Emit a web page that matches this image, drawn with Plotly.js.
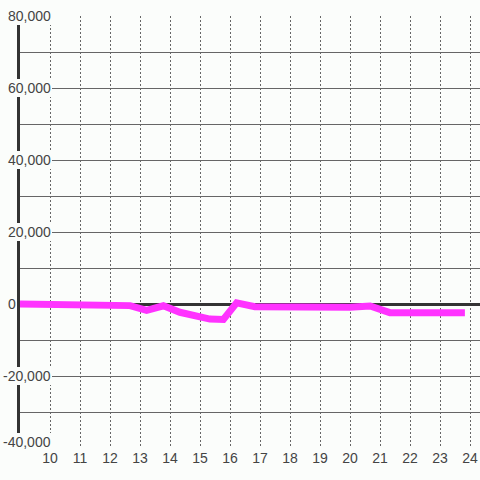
<!DOCTYPE html>
<html>
<head>
<meta charset="utf-8">
<script src="https://cdn.plot.ly/plotly-3.0.1.min.js"></script>
<style>
html,body{margin:0;padding:0;background:#fbfdfb;}
#chart{width:480px;height:480px;}
</style>
</head>
<body>
<div id="chart"></div>
<script>
// Data
const xValues = [9, 10.9, 11.2, 12.67, 13.22, 13.78, 14.33, 15.33, 15.78, 16.22, 16.83, 18.0, 20.0, 20.67, 21.33, 23.83];
const yValues = [0, 0, -400, -450, -1800, -500, -2300, -4200, -4300, 300, -750, -850, -900, -550, -2400, -2400];

const xTickVals = [10, 11, 12, 13, 14, 15, 16, 17, 18, 19, 20, 21, 22, 23, 24];
const xTickText = ["10", "11", "12", "13", "14", "15", "16", "17", "18", "19", "20", "21", "22", "23", "24"];
const yTickVals = [-40000, -20000, 0, 20000, 40000, 60000, 80000];
const yTickText = ["-40,000", "-20,000", "0", "20,000", "40,000", "60,000", "80,000"];

const bg = "#fbfdfb";
const fontFam = "Liberation Sans, Arial, sans-serif";

const trace = {
  x: xValues,
  y: yValues,
  type: "scatter",
  mode: "lines",
  line: {color: "#ff33ff", width: 7},
  hoverinfo: "skip"
};

const yMin = -40000, yMax = 80000;

const annotations = yTickVals.map((v, i) => ({
  xref: "paper", yref: "y",
  x: 0, y: v,
  xanchor: "right", yanchor: "middle",
  xshift: v === 0 ? -3 : 32,
  yshift: v === yMin ? 6 : 0,
  text: yTickText[i],
  showarrow: false,
  bgcolor: bg,
  borderpad: 1,
  borderwidth: 0,
  font: {family: fontFam, size: 14, color: "#444"}
}));

const layout = {
  width: 480, height: 480,
  margin: {l: 20, r: 0, t: 16, b: 32, pad: 0},
  paper_bgcolor: bg,
  plot_bgcolor: bg,
  showlegend: false,
  xaxis: {
    range: [9, 24.3333],
    tickvals: xTickVals,
    ticktext: xTickText,
    showgrid: true,
    gridcolor: "#666",
    gridwidth: 1,
    griddash: "2px,2px",
    zeroline: false,
    showline: false,
    ticks: "",
    tickfont: {family: fontFam, size: 14, color: "#444"}
  },
  yaxis: {
    range: [yMin, yMax],
    dtick: 10000,
    tick0: 0,
    showticklabels: false,
    showgrid: true,
    gridcolor: "#666",
    gridwidth: 1,
    zeroline: true,
    zerolinecolor: "#333",
    zerolinewidth: 3,
    showline: true,
    linecolor: "#333",
    linewidth: 3,
    layer: "below traces",
    ticks: ""
  },
  annotations: annotations
};

Plotly.newPlot("chart", [trace], layout, {staticPlot: true, displayModeBar: false});
</script>
</body>
</html>
